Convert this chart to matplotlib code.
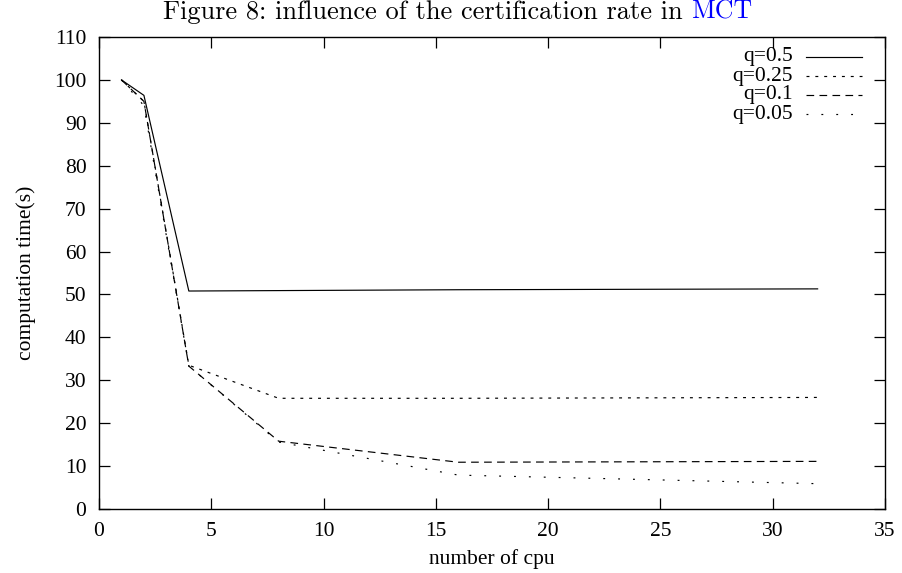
import numpy as np
import matplotlib
matplotlib.use('Agg')
import matplotlib.pyplot as plt

# values
cpus = [1, 2, 4, 8, 16, 32]
q05 = [100, 96.4, 50.8, 50.9, 51.1, 51.3]
q025 = [100, 95.0, 33.5, 25.8, 25.8, 26.0]
q01 = [100, 95.0, 33.3, 15.8, 10.9, 11.1]
q005 = [100, 94.0, 33.3, 15.6, 7.9, 5.9]

labels = ['q=0.5', 'q=0.25', 'q=0.1', 'q=0.05']
series = [q05, q025, q01, q005]
styles = ['-', (0, (2.5, 5)), (0, (6.5, 4.5)), (0, (1.6, 11))]

plt.rcParams['font.family'] = 'Liberation Serif'
plt.rcParams['font.size'] = 15.5

fig = plt.figure(figsize=(9.03, 5.73), dpi=100)
ax = fig.add_axes([99 / 903, 1 - 509 / 573, (885 - 99) / 903, (509 - 37) / 573])

for ys, ls in zip(series, styles):
    ax.plot(cpus, ys, color='black', linestyle=ls, linewidth=0.85)

ax.set_xlim(0, 35)
ax.set_ylim(0, 110)
ax.set_xticks(np.arange(0, 36, 5))
ax.set_yticks(np.arange(0, 111, 10))
ax.tick_params(direction='in', top=True, right=True, length=8, width=0.9)
ax.tick_params(axis='x', pad=9)
ax.tick_params(axis='y', pad=9)
for s in ax.spines.values():
    s.set_linewidth(1.0)

ax.set_xlabel('number of cpu', va='top')
ax.xaxis.set_label_coords(0.5, -(549 - 509) / 472)
ax.set_ylabel('computation time(s)')
ax.yaxis.set_label_coords((36 - 99) / 786, 0.5)

# legend drawn by hand: labels right-aligned, sample line on the right
for i, (lab, ls) in enumerate(zip(labels, styles)):
    y = 1 - (20 + 19 * i) / 472
    ax.text((793 - 99) / 786, y, lab, transform=ax.transAxes,
            ha='right', va='center')
    ax.plot([(806 - 99) / 786, (862 - 99) / 786], [y, y], transform=ax.transAxes,
            color='black', linestyle=ls, linewidth=0.85)

# title is partly cut off at the top edge in the reference
fig.text(691 / 903, 1 - 18.5 / 573, 'Figure 8: influence of the certification rate in ',
         ha='right', va='baseline', family='cmr10', fontsize=19)
fig.text(691 / 903, 1 - 18.5 / 573, 'MCT', ha='left', va='baseline', family='cmr10',
         fontsize=18.6, color='#0000ff')

fig.savefig('out.png', dpi=100)
